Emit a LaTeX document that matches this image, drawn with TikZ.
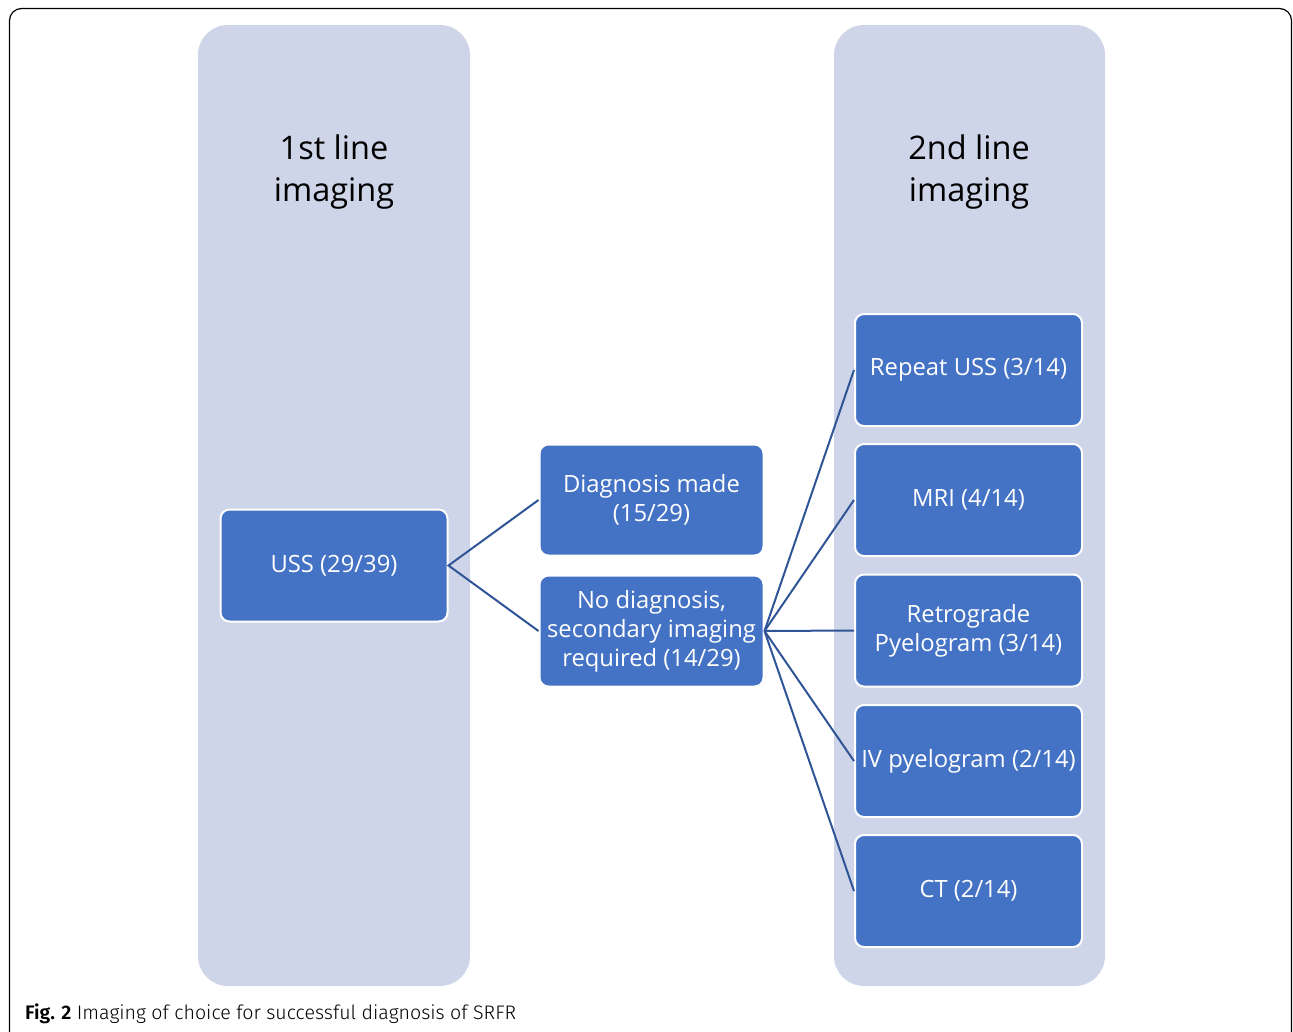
\documentclass[tikz,border=0pt]{standalone}
\usepackage{fontspec}
\setmainfont{Open Sans}
\newfontfamily\capfont{Fira Sans Light}
\usepackage{tikz}
\usetikzlibrary{positioning,calc}

\definecolor{colfill}{HTML}{CFD5E8}
\definecolor{boxfill}{HTML}{4472C4}
\definecolor{linkcol}{HTML}{2F5597}

\begin{document}
\begin{tikzpicture}
   [x=1pt,y=-1pt,
    column/.style={fill=colfill,rounded corners=30pt},
    coltitle/.style={align=center,font=\fontsize{32.5}{42}\selectfont,text=black},
    box/.style={rectangle,draw=white,line width=2pt,fill=boxfill,rounded corners=9pt,
      text=white,align=center,font=\fontsize{23.8}{29}\selectfont,
      minimum width=227pt,minimum height=112pt,inner sep=2pt},
    link/.style={draw=linkcol,line width=2pt}]

\useasboundingbox (0,0) rectangle (1293,1031);
\draw [line width=1.2pt,rounded corners=12pt] (9.5,8.5) rectangle (1291.5,1060);

% columns
\fill [column] (198,25) rectangle (470,986);
\fill [column] (834,25) rectangle (1105,986);
\node [coltitle] (t1) at (334,172) {1st line\\imaging};
\node [coltitle] (t2) at (969,172) {2nd line\\imaging};

% first line
\node [box] (uss) at (334,565.5) {USS (29/39)};
\node [box,minimum width=224pt,minimum height=111pt] (made) at (651.5,500) {Diagnosis made\\(15/29)};
\node [box,minimum width=224pt,minimum height=111pt] (nodiag) at (651.5,631) {No diagnosis,\\secondary imaging\\required (14/29)};

% second line
\node [box] (rep) at (968.5,370) {Repeat USS (3/14)};
\node [box] (mri) at (968.5,500) {MRI (4/14)};
\node [box] (retro) at (968.5,630.5) {Retrograde\\Pyelogram (3/14)};
\node [box] (iv) at (968.5,761) {IV pyelogram (2/14)};
\node [box] (ct) at (968.5,891) {CT (2/14)};

\draw [link] (made.west) -- (uss.east) -- (nodiag.west);
\foreach \n in {rep,mri,retro,iv,ct}
  \draw [link] (nodiag.east) -- (\n.west);

\node [anchor=base west,inner sep=0pt,font=\capfont\fontsize{19.6}{22}\selectfont] (cap) at (25,1019)
  {\textbf{Fig. 2} Imaging of choice for successful diagnosis of SRFR};
\end{tikzpicture}
\end{document}
